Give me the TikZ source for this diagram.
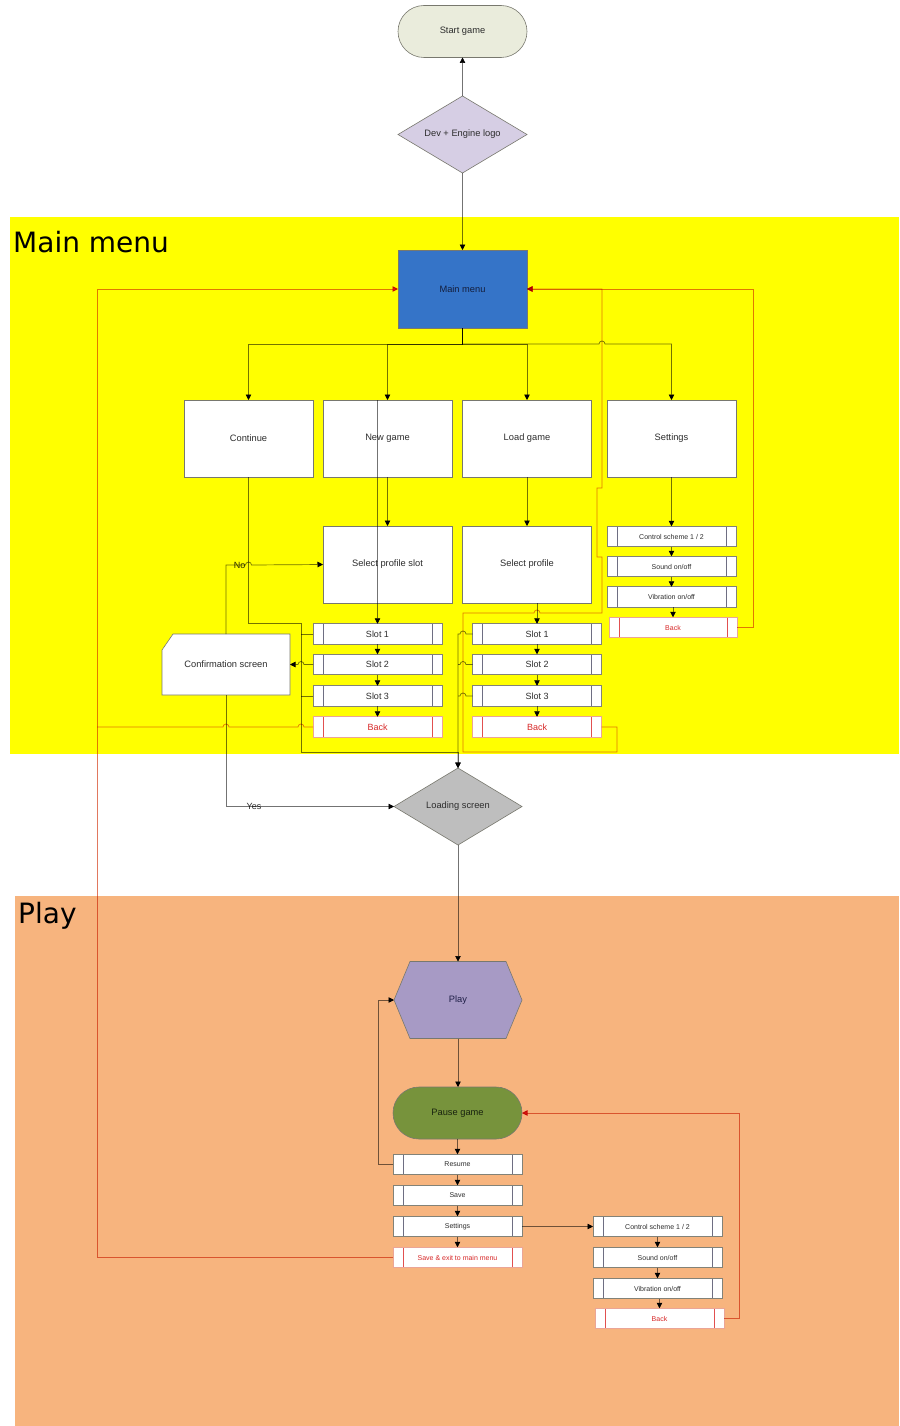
\documentclass[tikz,border=0pt]{standalone}
\usepackage{fontspec}
\setmainfont{Liberation Sans}
\newfontfamily\headfont{DejaVu Sans}
\usetikzlibrary{shapes.geometric,arrows.meta,backgrounds}
\definecolor{yel}{RGB}{255,255,0}
\definecolor{org}{RGB}{247,180,126}
\definecolor{startfill}{RGB}{234,236,220}
\definecolor{logofill}{RGB}{214,206,228}
\definecolor{mmfill}{RGB}{53,116,200}
\definecolor{loadfill}{RGB}{190,190,190}
\definecolor{playfill}{RGB}{167,154,197}
\definecolor{pausefill}{RGB}{119,147,60}
\definecolor{bord}{RGB}{120,120,110}
\definecolor{pbord}{RGB}{130,130,120}
\definecolor{pline}{RGB}{110,110,130}
\definecolor{bbord}{RGB}{235,165,150}
\definecolor{rline}{RGB}{225,80,80}
\definecolor{txt}{RGB}{45,45,45}
\definecolor{rtxt}{RGB}{215,40,40}
\definecolor{lc}{RGB}{115,115,115}
\definecolor{rc}{RGB}{225,120,95}
\definecolor{rtip}{RGB}{220,30,30}
\begin{document}
\begin{tikzpicture}[x=1pt,y=-1pt,
  base/.style={line width=0.6pt, inner sep=0pt, outer sep=0pt, text=txt, font=\fontsize{9.3}{11}\selectfont},
  box/.style={base, draw=bord, fill=white, minimum width=129pt, minimum height=77pt},
  inner lines/.style={path picture={\draw[#1, line width=0.6pt]
      ([xshift=10pt]path picture bounding box.north west) -- ([xshift=10pt]path picture bounding box.south west)
      ([xshift=-10pt]path picture bounding box.north east) -- ([xshift=-10pt]path picture bounding box.south east);}},
  proc/.style={base, draw=pbord, fill=white, minimum width=129pt, minimum height=20.5pt, inner lines=pline},
  backbox/.style={base, draw=bbord, fill=white, minimum width=129pt, minimum height=20.5pt, inner lines=rline, text=rtxt},
  small/.style={font=\fontsize{7}{8}\selectfont},
  mid/.style={font=\fontsize{9}{10}\selectfont},
  conn/.style={draw=lc, line width=0.7pt, blend mode=multiply},
  arr/.style={conn, -{Triangle[length=5.5pt,width=5.5pt,color=black]}},
  redl/.style={draw=rc, line width=0.7pt, blend mode=multiply},
  rarr/.style={redl, -{Triangle[length=5.5pt,width=5.5pt,color=rtip]}},
  lbl/.style={fill=white, inner sep=0.8pt, text=txt, font=\fontsize{9}{10}\selectfont},
  head/.style={anchor=base west, inner sep=0pt, font=\headfont\fontsize{28}{30}\selectfont, text=black}
]
\useasboundingbox (0,0) rectangle (899,1426);
\begin{scope}[on background layer]
  \fill[white] (0,0) rectangle (899,1426);
  \fill[yel] (10,217) rectangle (899,754);
  \fill[org] (15,896) rectangle (899,1426);
\end{scope}
\node[head] (hmain) at (13,252) {Main menu};
\node[head] (hplay) at (18,923) {Play};

% top
\node[base, draw=bord, fill=startfill, minimum width=129pt, minimum height=52pt, rounded corners=26pt] (start) at (462.5,31.5) {Start game};
\node[base, draw=bord, fill=logofill, diamond, aspect=1.675, minimum width=129pt, minimum height=77pt] (logo) at (462.5,134.5) {Dev + Engine logo};
\node[box, fill=mmfill, minimum height=78pt, text={rgb,255:red,20;green,30;blue,60}] (mm) at (462.5,289) {Main menu};

% main options
\node[box] (cont) at (248.5,438.5) {Continue};
\node[box] (ng) at (387.5,438.5) {New game};
\node[box] (lg) at (527,438.5) {Load game};
\node[box] (set) at (671.5,438.5) {Settings};
\node[box] (selslot) at (387.5,564.5) {Select profile slot};
\node[box] (selprof) at (527,564.5) {Select profile};

% slot lists
\node[proc, mid] (sl1) at (377.5,634) {Slot 1};
\node[proc, mid] (sl2) at (377.5,664.5) {Slot 2};
\node[proc, mid] (sl3) at (377.5,696) {Slot 3};
\node[backbox, mid] (slb) at (377.5,727) {Back};
\node[proc, mid] (sr1) at (537,634) {Slot 1};
\node[proc, mid] (sr2) at (537,664.5) {Slot 2};
\node[proc, mid] (sr3) at (537,696) {Slot 3};
\node[backbox, mid] (srb) at (537,727) {Back};

% settings list (main menu)
\node[proc, small] (sc) at (671.5,536.5) {Control scheme 1 / 2};
\node[proc, small] (ss) at (671.5,566.5) {Sound on/off};
\node[proc, small] (sv) at (671.5,597) {Vibration on/off};
\node[backbox, small, minimum width=128pt] (sb) at (673,627.5) {Back};

% confirmation
\node[base, minimum width=128pt, minimum height=61pt] (conf) at (226,664.5) {Confirmation screen};
\begin{scope}[on background layer]
  \filldraw[fill=white, draw=bord, line width=0.6pt] (conf.south west) -- (conf.south east) -- (conf.north east)
    -- ([xshift=11pt]conf.north west) -- ([yshift=-16pt]conf.north west) -- cycle;
\end{scope}

% loading / play
\node[base, draw=bord, fill=loadfill, diamond, aspect=1.66, minimum width=128pt, minimum height=77pt] (load) at (458,806.5) {Loading screen};
\node[base, minimum width=128pt, minimum height=77pt, text={rgb,255:red,30;green,30;blue,70}] (play) at (458,1000) {Play};
\begin{scope}[on background layer]
  \filldraw[fill=playfill, draw=bord, line width=0.6pt] (play.west) -- ([xshift=16pt]play.north west) -- ([xshift=-16pt]play.north east)
    -- (play.east) -- ([xshift=-16pt]play.south east) -- ([xshift=16pt]play.south west) -- cycle;
\end{scope}
\node[base, draw=bord, fill=pausefill, minimum width=129pt, minimum height=52pt, rounded corners=26pt, text={rgb,255:red,25;green,35;blue,15}] (pause) at (457.5,1113) {Pause game};

% pause menu
\node[proc, small] (pres) at (457.5,1164.5) {Resume};
\node[proc, small] (psave) at (457.5,1195.5) {Save};
\node[proc, small] (pset) at (457.5,1226.5) {Settings};
\node[backbox, small] (pexit) at (457.5,1257.5) {Save \& exit to main menu};
\node[proc, small] (pc) at (657.5,1226.5) {Control scheme 1 / 2};
\node[proc, small] (ps) at (657.5,1257.5) {Sound on/off};
\node[proc, small] (pv) at (657.5,1288.5) {Vibration on/off};
\node[backbox, small] (pb) at (659.5,1318.5) {Back};

% ---- connectors ----
\draw[arr] (logo.north) -- (start.south);
\draw[arr] (logo.south) -- (mm.north);
\draw[arr] (mm.south) -- ++(0,16) -| (cont.north);
\draw[arr] (mm.south) -- ++(0,16) -| (ng.north);
\draw[arr] (mm.south) -- ++(0,16) -| (lg.north);
\draw[arr] (mm.south) -- ++(0,16) -- (599,344) arc[start angle=180,end angle=0,radius=3pt] -| (set.north);

\draw[arr] (ng.south) -- (selslot.north);
\draw[arr] (lg.south) -- (selprof.north);
\draw[arr] (set.south) -- (sc.north);
\draw[arr] (sc.south) -- (ss.north);
\draw[arr] (ss.south) -- (sv.north);
\draw[arr] (sv.south -| sb.north) -- (sb.north);

\draw[arr] (ng.north -| sl1.north) -- (sl1.north);
\draw[arr] (sl1.south) -- (sl2.north);
\draw[arr] (sl2.south) -- (sl3.north);
\draw[arr] (sl3.south) -- (slb.north);
\draw[arr] (selprof.south -| sr1.north) -- (sr1.north);
\draw[arr] (sr1.south) -- (sr2.north);
\draw[arr] (sr2.south) -- (sr3.north);
\draw[arr] (sr3.south) -- (srb.north);

% slots -> confirmation
\draw[conn] (sl1.west) -- ++(-12,0);
\draw[conn] (sl3.west) -- ++(-12,0);
\draw[arr] (sl2.west) -- (304,664.5) arc[start angle=0,end angle=180,radius=3pt] -- (conf.east);

% continue -> loading
\draw[arr] (cont.south) -- (248.5,623) -- (301,623) -- (301,752) -- (458,752) -- (load.north);
% load slots -> loading
\draw[arr] (sr1.west) -- (466,634) arc[start angle=0,end angle=180,radius=3pt] -- (458,634) -- (load.north);
\draw[conn] (sr2.west) -- (466,664.5) arc[start angle=0,end angle=180,radius=3pt] -- (458,664.5);
\draw[conn] (sr3.west) -- (466,696) arc[start angle=0,end angle=180,radius=3pt] -- (458,696);

% confirmation outcomes
\draw[arr] (conf.north) -- (226,565) -- node[lbl, pos=0.7] (nolbl) {No} (245.5,565)
  arc[start angle=180,end angle=0,radius=3pt] -- (selslot.west);
\draw[arr] (conf.south) -- (226,806.5) -- node[lbl, pos=0.167] (yeslbl) {Yes} (load.west);

% red returns
\draw[rarr] (pexit.west) -- (97,1257.5) -- (97,289) -- (mm.west);
\draw[redl] (slb.west) -- (304,727) arc[start angle=0,end angle=180,radius=3pt] -- (229,727)
  arc[start angle=0,end angle=180,radius=3pt] -- (97,727);
\draw[rarr] (sb.east) -- (753,627.5) -- (753,289) -- (mm.east);
\draw[rarr] (srb.east) -- (617,727) -- (617,752) -- (463,752) -- (463,613) -- (534,613)
  arc[start angle=180,end angle=0,radius=3pt] -- (602,613) -- (602,557) -- (597,557) -- (597,488)
  -- (602,488) -- (602,289) -- (mm.east);
\draw[rarr] (pb.east) -- (739,1318.5) -- (739,1113) -- (pause.east);

% play section
\draw[arr] (load.south) -- (play.north);
\draw[arr] (play.south) -- (play.south |- pause.north);
\draw[arr] (pause.south) -- (pres.north);
\draw[arr] (pres.south) -- (psave.north);
\draw[arr] (psave.south) -- (pset.north);
\draw[arr] (pset.south) -- (pexit.north);
\draw[arr] (pres.west) -- (378,1164.5) -- (378,1000) -- (play.west);
\draw[arr] (pset.east) -- (pc.west);
\draw[arr] (pc.south) -- (ps.north);
\draw[arr] (ps.south) -- (pv.north);
\draw[arr] (pv.south -| pb.north) -- (pb.north);
\end{tikzpicture}
\end{document}
